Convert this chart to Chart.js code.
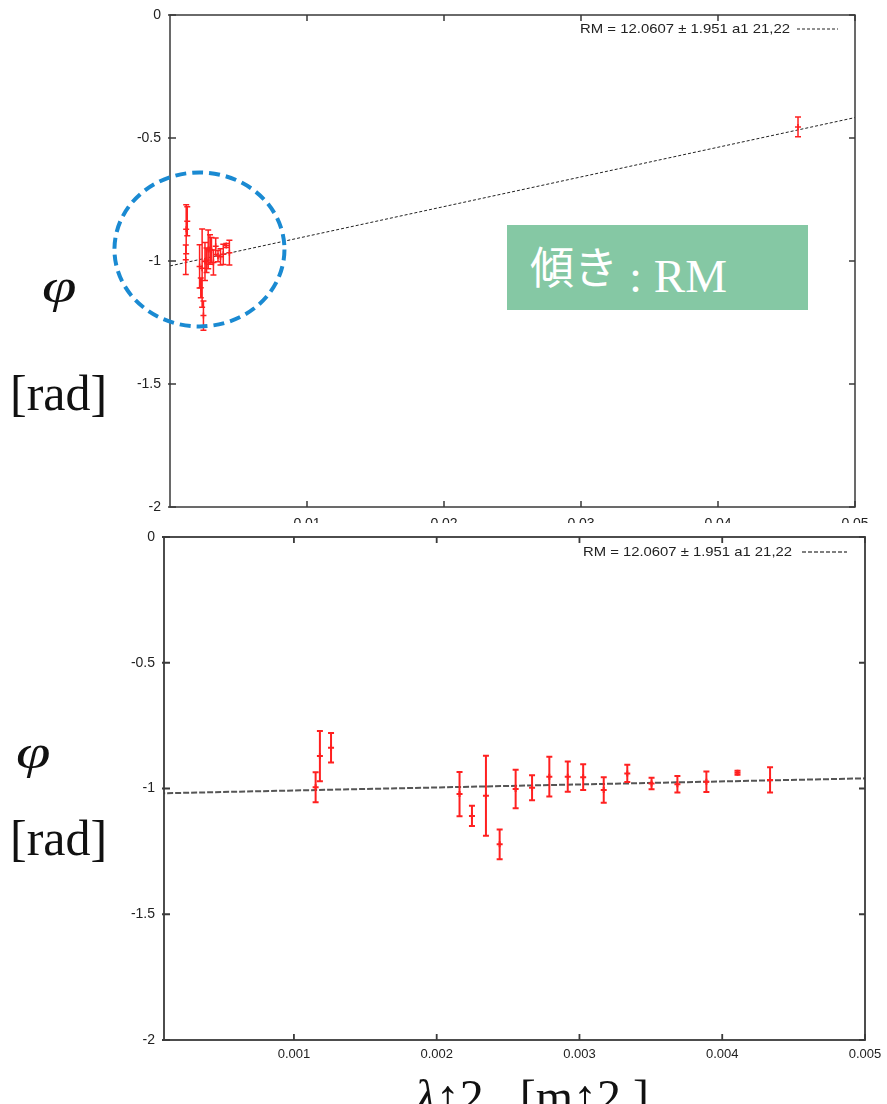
<!DOCTYPE html>
<html lang="ja">
<head>
<meta charset="UTF-8">
<title>RM fit</title>
<script src="https://cdn.jsdelivr.net/npm/chart.js@4.4.1/dist/chart.umd.min.js"></script>
<style>
  body { margin: 0; width: 887px; height: 1104px; position: relative; overflow: hidden; background: #fff; }
  .panel { position: absolute; left: 0; width: 887px; background: #fff; }
  #topPanel { top: 0; height: 540px; }
  #bottomPanel { top: 523px; height: 581px; }
  .serif { position: absolute; font-family: 'Liberation Serif', 'DejaVu Serif', serif; color: #111; line-height: 1; white-space: nowrap; }
  .phi { font-style: italic; font-size: 48px; transform: scaleX(1.3); transform-origin: left top; }
  .rad { font-size: 50px; }
  #slopeBox { position: absolute; left: 507px; top: 225px; width: 301px; height: 85px; background: #85c8a4; color: #fff; white-space: nowrap; }
  #slopeBox .jp { position: absolute; left: 23px; top: 14px; font-family: 'Noto Sans CJK JP', sans-serif; font-size: 44px; line-height: 1.2; }
  #slopeBox .rm { position: absolute; left: 122px; top: 23px; font-family: 'Liberation Serif', serif; font-size: 47px; line-height: 1.2; }
  #xTitle { left: 415px; top: 1073px; font-size: 48px; }
  #xTitle i { font-style: italic; }
</style>
</head>
<body>
<div class="panel" id="topPanel"><canvas id="topChart" width="887" height="540"></canvas></div>
<div class="panel" id="bottomPanel"><canvas id="bottomChart" width="887" height="581"></canvas></div>

<div class="serif phi" style="left:42px; top:262px;">φ</div>
<div class="serif rad" style="left:10px; top:368px;">[rad]</div>
<div class="serif phi" style="left:16px; top:728px;">φ</div>
<div class="serif rad" style="left:10px; top:813px;">[rad]</div>
<div class="serif" id="xTitle"><i>λ</i>↑2&nbsp;&nbsp;&nbsp;[m↑2 ]</div>
<div id="slopeBox"><span class="jp">傾き</span><span class="rm">: RM</span></div>

<script>
// measured points: lambda^2 [m^2], phase [rad], error [rad]
const lambdaSq = [0.001152, 0.001182, 0.00126, 0.00216, 0.002247, 0.002345, 0.002441, 0.002553,
                  0.002668, 0.002789, 0.002918, 0.003026, 0.00317, 0.003335, 0.003505, 0.003686,
                  0.003889, 0.004107, 0.004335, 0.04584];
const phi = [-0.995, -0.871, -0.838, -1.022, -1.109, -1.029, -1.222, -1.002,
             -0.997, -0.953, -0.953, -0.955, -1.006, -0.94, -0.98, -0.983,
             -0.973, -0.937, -0.966, -0.455];
const phiErr = [0.06, 0.1, 0.059, 0.088, 0.04, 0.159, 0.059, 0.077,
                0.05, 0.079, 0.06, 0.051, 0.051, 0.034, 0.023, 0.033,
                0.041, 0.008, 0.05, 0.04];

// fitted line end points
const fitX = [0, 0.05];
const fitY = [-1.02, -0.417];
const legendText = 'RM = 12.0607 ± 1.951 a1 21,22';

// ticks
const yTicks = [0, -0.5, -1, -1.5, -2];
const yTickLabels = ['0', '-0.5', '-1', '-1.5', '-2'];
const topXTicks = [0.01, 0.02, 0.03, 0.04, 0.05];
const topXTickLabels = ['0.01', '0.02', '0.03', '0.04', '0.05'];
const bottomXTicks = [0.001, 0.002, 0.003, 0.004, 0.005];
const bottomXTickLabels = ['0.001', '0.002', '0.003', '0.004', '0.005'];

// highlighted cluster (data coordinates)
const ringCenter = [0.00215, -0.953];

const tickFamily = "'Liberation Sans', Arial, sans-serif";

// vertical error bars with caps
const errorBars = {
  id: 'errorBars',
  afterDatasetsDraw(chart, args, o) {
    const { ctx, chartArea: a, scales: { x, y } } = chart;
    ctx.save();
    ctx.beginPath();
    ctx.rect(a.left, a.top, a.width, a.height);
    ctx.clip();
    ctx.strokeStyle = o.color;
    ctx.lineWidth = o.width;
    ctx.beginPath();
    lambdaSq.forEach((lx, i) => {
      if (lx < x.min || lx > x.max) return;
      const px = x.getPixelForValue(lx);
      const top = y.getPixelForValue(phi[i] + phiErr[i]);
      const bot = y.getPixelForValue(phi[i] - phiErr[i]);
      ctx.moveTo(px, top); ctx.lineTo(px, bot);
      ctx.moveTo(px - o.cap, top); ctx.lineTo(px + o.cap, top);
      ctx.moveTo(px - o.cap, bot); ctx.lineTo(px + o.cap, bot);
    });
    ctx.stroke();
    ctx.restore();
  }
};

// box round the plot with inward ticks on all sides
const frame = {
  id: 'frame',
  afterDraw(chart, args, o) {
    const { ctx, chartArea: a, scales: { x, y } } = chart;
    ctx.save();
    ctx.strokeStyle = o.color;
    ctx.lineWidth = o.width;
    ctx.strokeRect(a.left, a.top, a.width, a.height);
    ctx.beginPath();
    x.ticks.forEach(t => {
      const px = x.getPixelForValue(t.value);
      ctx.moveTo(px, a.bottom); ctx.lineTo(px, a.bottom - o.tick);
      ctx.moveTo(px, a.top); ctx.lineTo(px, a.top + o.tick);
    });
    y.ticks.forEach(t => {
      const py = y.getPixelForValue(t.value);
      ctx.moveTo(a.left - 2, py); ctx.lineTo(a.left + o.tick, py);
      ctx.moveTo(a.right, py); ctx.lineTo(a.right - o.tick, py);
    });
    ctx.stroke();
    ctx.restore();
  }
};

// gnuplot style key in the upper right corner
const keyLine = {
  id: 'keyLine',
  afterDraw(chart, args, o) {
    const { ctx, chartArea: a } = chart;
    const ky = a.top + o.dy;
    ctx.save();
    ctx.font = o.size + "px " + tickFamily;
    ctx.fillStyle = '#222';
    ctx.textBaseline = 'middle';
    const w = ctx.measureText(legendText).width;
    ctx.translate(a.right - o.textRight - o.textWidth, ky);
    ctx.scale(o.textWidth / w, 1);
    ctx.fillText(legendText, 0, 0);
    ctx.restore();
    ctx.save();
    ctx.strokeStyle = o.color;
    ctx.lineWidth = o.lineWidth;
    ctx.setLineDash(o.dash);
    ctx.beginPath();
    ctx.moveTo(a.right - o.sampleRight - o.sampleWidth, ky);
    ctx.lineTo(a.right - o.sampleRight, ky);
    ctx.stroke();
    ctx.restore();
  }
};

// dashed ellipse round the low-lambda cluster
const ring = {
  id: 'ring',
  afterDraw(chart, args, o) {
    const { ctx, scales: { x, y } } = chart;
    const cx = x.getPixelForValue(ringCenter[0]);
    const cy = y.getPixelForValue(ringCenter[1]);
    ctx.save();
    ctx.strokeStyle = o.color;
    ctx.lineWidth = o.width;
    ctx.setLineDash(o.dash);
    ctx.beginPath();
    ctx.ellipse(cx, cy, o.rx, o.ry, 0, 0, Math.PI * 2);
    ctx.stroke();
    ctx.restore();
  }
};

function makeChart(id, cfg) {
  const points = lambdaSq.map((v, i) => ({ x: v, y: phi[i] }));
  const fit = fitX.map((v, i) => ({ x: v, y: fitY[i] }));
  return new Chart(document.getElementById(id), {
    type: 'scatter',
    data: {
      datasets: [
        {
          data: points,
          pointStyle: 'cross',
          pointRadius: cfg.mark,
          borderColor: '#ff2020',
          borderWidth: cfg.barWidth,
          backgroundColor: '#ff2020'
        },
        {
          data: fit,
          showLine: true,
          pointRadius: 0,
          borderColor: cfg.fitColor,
          borderWidth: cfg.fitWidth,
          borderDash: cfg.fitDash
        }
      ]
    },
    options: {
      responsive: false,
      animation: false,
      layout: { padding: cfg.padding },
      scales: {
        x: {
          type: 'linear',
          min: cfg.xMin,
          max: cfg.xMax,
          afterBuildTicks: s => { s.ticks = cfg.xTicks.map(v => ({ value: v })); },
          afterFit: s => { s.height = cfg.xHeight; s.paddingLeft = 0; s.paddingRight = 0; },
          grid: { display: false, drawTicks: false },
          border: { display: false },
          ticks: {
            padding: cfg.xPad,
            maxRotation: 0,
            autoSkip: false,
            color: '#222',
            font: { family: tickFamily, size: cfg.xFont },
            callback: (v, i) => cfg.xLabels[i]
          }
        },
        y: {
          type: 'linear',
          min: -2,
          max: 0,
          afterBuildTicks: s => { s.ticks = yTicks.map(v => ({ value: v })); },
          afterFit: s => { s.width = cfg.yWidth; s.paddingTop = 0; s.paddingBottom = 0; },
          grid: { display: false, drawTicks: false },
          border: { display: false },
          ticks: {
            padding: 9,
            color: '#222',
            font: { family: tickFamily, size: 14 },
            callback: (v, i) => yTickLabels[i]
          }
        }
      },
      plugins: {
        legend: { display: false },
        tooltip: { enabled: false },
        errorBars: { color: '#ff2020', width: cfg.barWidth, cap: cfg.cap },
        frame: { color: '#3a3a3a', width: cfg.frameWidth, tick: 6 },
        keyLine: cfg.key,
        ring: { color: '#1a8ad2', width: 4, dash: [11, 6], rx: 85, ry: 77 }
      }
    },
    plugins: cfg.plugins
  });
}

makeChart('topChart', {
  xMin: 0, xMax: 0.05,
  xTicks: topXTicks, xLabels: topXTickLabels,
  padding: { left: 0, right: 32, top: 15, bottom: 0 },
  yWidth: 170, xHeight: 33, xPad: 9, xFont: 14,
  mark: 3, cap: 3, barWidth: 1.5,
  fitColor: '#222', fitWidth: 1, fitDash: [3, 2],
  frameWidth: 1.5,
  key: { size: 13, dy: 14, textRight: 65, textWidth: 210, sampleRight: 17, sampleWidth: 41,
         color: '#222', lineWidth: 1, dash: [3, 2] },
  plugins: [errorBars, frame, keyLine, ring]
});

makeChart('bottomChart', {
  xMin: 0.00009, xMax: 0.005,
  xTicks: bottomXTicks, xLabels: bottomXTickLabels,
  padding: { left: 0, right: 22, top: 14, bottom: 0 },
  yWidth: 164, xHeight: 64, xPad: 7, xFont: 13,
  mark: 3, cap: 3, barWidth: 2,
  fitColor: '#555', fitWidth: 2, fitDash: [6, 2],
  frameWidth: 1.8,
  key: { size: 13, dy: 15, textRight: 73, textWidth: 209, sampleRight: 18, sampleWidth: 45,
         color: '#555', lineWidth: 1.5, dash: [4, 2] },
  plugins: [errorBars, frame, keyLine]
});
</script>
</body>
</html>
